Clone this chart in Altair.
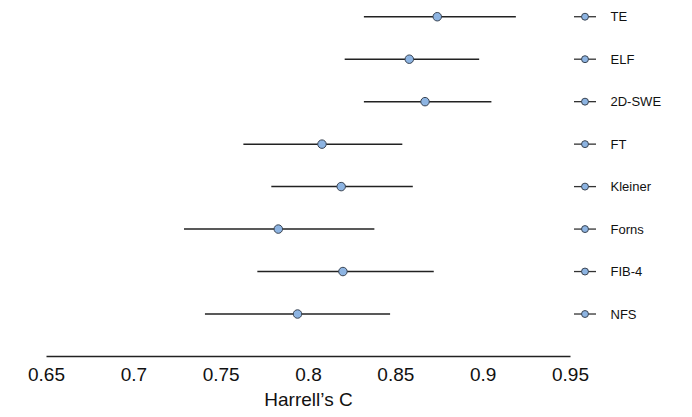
import altair as alt
import pandas as pd

methods = ["TE", "ELF", "2D-SWE", "FT", "Kleiner", "Forns", "FIB-4", "NFS"]
estimate = [0.874, 0.858, 0.867, 0.808, 0.819, 0.783, 0.820, 0.794]
ci_low = [0.832, 0.821, 0.832, 0.763, 0.779, 0.729, 0.771, 0.741]
ci_high = [0.919, 0.898, 0.905, 0.854, 0.860, 0.838, 0.872, 0.847]
x_ticks = [0.65, 0.7, 0.75, 0.8, 0.85, 0.9, 0.95]

df = pd.DataFrame({"method": methods, "est": estimate, "lo": ci_low, "hi": ci_high})

FONT = "Liberation Sans"
FILL = "#8db4e2"
EDGE = "#3a4452"

y_enc = alt.Y(
    "method:N",
    sort=methods,
    scale=alt.Scale(type="point", padding=0.597, align=0.172),
    axis=alt.Axis(
        orient="right", title=None, domain=False, ticks=False, grid=False,
        labelPadding=40, labelFontSize=13, labelFont=FONT, labelColor="#111111",
        labelBaseline="middle", labelAlign="left",
    ),
)

x_enc = alt.X(
    "lo:Q",
    scale=alt.Scale(domain=[0.65, 0.95], nice=False, zero=False),
    axis=alt.Axis(
        values=x_ticks, format=".2~f", title="Harrell\u2019s C", grid=False,
        ticks=False, tickSize=0, labelPadding=9, labelFontSize=19, labelFont=FONT,
        labelColor="#111111", labelFlush=False, domainColor="#222222", domainWidth=1.5,
        titleFont=FONT, titleFontSize=19, titleFontWeight="normal", titleColor="#111111",
        titleBaseline="alphabetic", titleY=49,
    ),
)

bars = alt.Chart(df).mark_rule(color="#222222", strokeWidth=1.5).encode(
    x=x_enc, x2="hi:Q", y=y_enc
)

points = alt.Chart(df).mark_point(
    filled=True, shape="circle", size=72, fill=FILL, stroke=EDGE, strokeWidth=1, opacity=1
).encode(x="est:Q", y=alt.Y("method:N", sort=methods))

key_lines = alt.Chart(df).mark_rule(color="#333333", strokeWidth=1.3).encode(
    x=alt.value(528), x2=alt.value(550), y=alt.Y("method:N", sort=methods)
)
key_points = alt.Chart(df).mark_point(
    filled=True, shape="circle", size=48, fill=FILL, stroke=EDGE, strokeWidth=1, opacity=1
).encode(x=alt.value(539), y=alt.Y("method:N", sort=methods))

chart = (
    alt.layer(bars, points, key_lines, key_points)
    .properties(
        width=524, height=348,
        autosize=alt.AutoSizeParams(type="none"),
        padding={"left": 38, "top": 0, "right": 114, "bottom": 53},
        background="white",
    )
    .configure_view(stroke=None)
)

chart.save("out.html", embed_options={"renderer": "svg", "actions": False})
